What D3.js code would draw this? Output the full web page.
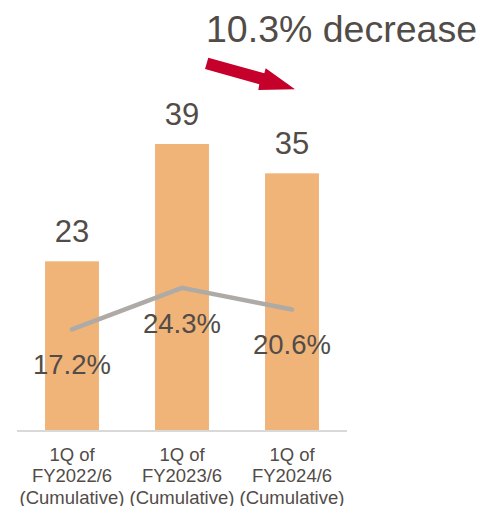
<!DOCTYPE html>
<html>
<head>
<meta charset="utf-8">
<script src="https://cdn.jsdelivr.net/npm/d3@7/dist/d3.min.js"></script>
<style>
  html, body { margin: 0; padding: 0; background: #ffffff; }
  svg { display: block; }
  text { font-family: "Liberation Sans", Arial, sans-serif; fill: #524c48; }
</style>
</head>
<body>
<svg id="chart" width="481" height="506"></svg>
<script>
// ---- data ----
const categories = ["1Q of|FY2022/6|(Cumulative)", "1Q of|FY2023/6|(Cumulative)", "1Q of|FY2024/6|(Cumulative)"];
const barValues = [23, 39, 35];
const rateValues = [17.2, 24.3, 20.6];
const rateLabels = ["17.2%", "24.3%", "20.6%"];
const headline = "10.3% decrease";

// ---- layout ----
const svg = d3.select("#chart");
const x = d3.scaleBand().domain(categories).range([17, 347]).paddingInner(0.51).paddingOuter(0.255);
const y = d3.scaleLinear().domain([0, 45]).range([430, 100]);
const y2 = d3.scaleLinear().domain([0, 50]).range([430, 137.5]);

const barColor = "#f0b378";
const lineColor = "#aeaaa6";

// bars
svg.append("g").selectAll("rect").data(barValues).join("rect")
  .attr("x", (d, i) => x(categories[i]))
  .attr("width", x.bandwidth())
  .attr("y", d => y(d))
  .attr("height", d => y(0) - y(d))
  .attr("fill", barColor);

// axis baseline
svg.append("line")
  .attr("x1", x.range()[0]).attr("x2", x.range()[1])
  .attr("y1", y(0) + 1).attr("y2", y(0) + 1)
  .attr("stroke", "#d9d9d9").attr("stroke-width", 1.8);

// value labels
svg.append("g").selectAll("text").data(barValues).join("text")
  .attr("x", (d, i) => x(categories[i]) + x.bandwidth() / 2)
  .attr("y", d => y(d) - 19)
  .attr("text-anchor", "middle")
  .style("font-size", "31px")
  .text(d => d);

// line
const cx = (i) => x(categories[i]) + x.bandwidth() / 2;
const line = d3.line().x((d, i) => cx(i)).y(d => y2(d));
svg.append("path").datum(rateValues)
  .attr("d", line)
  .attr("fill", "none")
  .attr("stroke", lineColor)
  .attr("stroke-width", 4.5)
  .attr("stroke-linecap", "round")
  .attr("stroke-linejoin", "round");

// rate labels
svg.append("g").selectAll("text").data(rateValues).join("text")
  .attr("x", (d, i) => cx(i))
  .attr("y", d => y2(d) + 45)
  .attr("text-anchor", "middle")
  .style("font-size", "27.5px")
  .text((d, i) => rateLabels[i]);

// category labels
const cat = svg.append("g").selectAll("text").data(categories).join("text")
  .attr("text-anchor", "middle")
  .style("font-size", "18.5px")
  .attr("x", d => x(d) + x.bandwidth() / 2)
  .attr("y", 460.5);
cat.each(function(d) {
  const parts = d.split("|");
  d3.select(this).selectAll("tspan").data(parts).join("tspan")
    .attr("x", x(d) + x.bandwidth() / 2)
    .attr("dy", (p, j) => j === 0 ? 0 : 21.5)
    .text(p => p);
});

// headline
svg.append("text")
  .attr("x", 206).attr("y", 42)
  .style("font-size", "37.5px")
  .text(headline);

// arrow annotation
const arrowPts = [[208.3, 57.7], [264.3, 73.3], [265.7, 68.3], [295, 89.3], [258.3, 90], [259.3, 84.3], [205, 69]];
svg.append("path")
  .attr("d", d3.line()(arrowPts) + "Z")
  .attr("fill", "#c5002a");
</script>
</body>
</html>
